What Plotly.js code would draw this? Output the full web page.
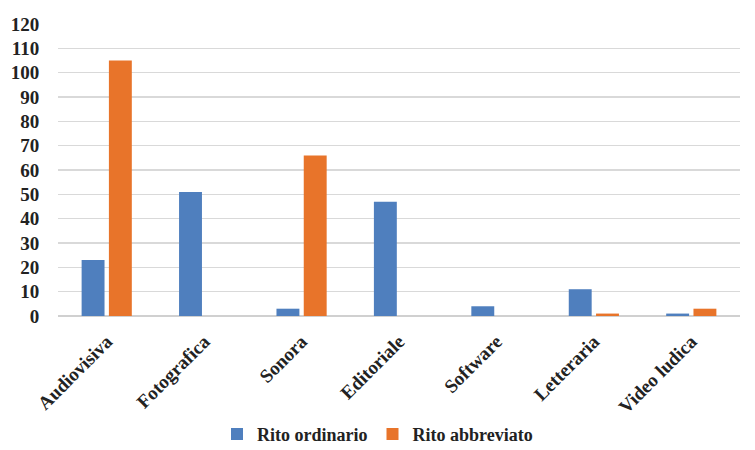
<!DOCTYPE html>
<html><head><meta charset="utf-8">
<script src="https://cdn.plot.ly/plotly-3.0.1.min.js"></script>
<style>body{margin:0;background:#fff}</style></head>
<body><div id="chart" style="width:755px;height:450px"></div>
<script>
const categories = ["Audiovisiva","Fotografica","Sonora","Editoriale","Software","Letteraria","Video ludica"];
const ritoOrdinario = [23, 51, 3, 47, 4, 11, 1];
const ritoAbbreviato = [105, 0, 66, 0, 0, 1, 3];
const yTicks = [0,10,20,30,40,50,60,70,80,90,100,110,120];

const fam = "Liberation Serif";
const traces = [
  {type: "bar", name: "Rito ordinario", x: categories, y: ritoOrdinario,
   marker: {color: "#4f7fbe", line: {width: 0}}},
  {type: "bar", name: "Rito abbreviato", x: categories, y: ritoAbbreviato,
   marker: {color: "#e8742a", line: {width: 0}}}
];
const layout = {
  width: 755, height: 450,
  margin: {l: 58, r: 15, t: 24, b: 134},
  paper_bgcolor: "#fff", plot_bgcolor: "#fff",
  font: {family: fam, color: "#222", size: 16, weight: "bold"},
  barmode: "group", bargap: 0.44, bargroupgap: 0.16,
  xaxis: {tickangle: -45, tickfont: {family: fam, size: 19, color: "#222", weight: "bold"},
          showgrid: false, showline: false, ticks: "outside", ticklen: 6, tickcolor: "rgba(0,0,0,0)",
          zeroline: false, automargin: false},
  yaxis: {range: [0, 120], tickvals: yTicks,
          tickfont: {family: fam, size: 19, color: "#222", weight: "bold"},
          showgrid: true, gridcolor: "#d9d9d9", gridwidth: 1.5, zeroline: true, zerolinecolor: "#d0d0d0", zerolinewidth: 1.5,
          showline: false, ticks: "outside", ticklen: 14, tickcolor: "rgba(0,0,0,0)", automargin: false},
  showlegend: true,
  legend: {orientation: "h", x: 0.5, xanchor: "center", xref: "container", y: 0.035, yanchor: "middle", yref: "container",
           font: {family: fam, size: 18, color: "#222", weight: "bold"}, traceorder: "normal"}
};
Plotly.newPlot("chart", traces, layout, {displayModeBar: false, staticPlot: true});
</script></body></html>
